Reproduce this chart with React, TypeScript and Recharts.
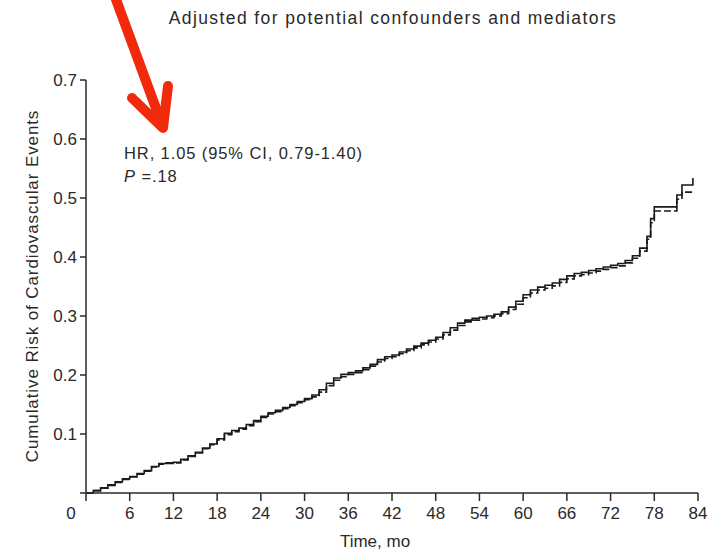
import React from 'react';
import { LineChart, Line, XAxis, YAxis } from 'recharts';

const months = [
  0, 1, 2, 3, 4, 5, 6, 7, 8, 9, 10, 11, 12, 13, 14, 15, 16, 17, 18, 19, 20,
  21, 22, 23, 24, 25, 26, 27, 28, 29, 30, 31, 32, 33, 34, 35, 36, 37, 38, 39, 40,
  41, 42, 43, 44, 45, 46, 47, 48, 49, 50, 51, 52, 53, 54, 55, 56, 57, 58, 59, 60,
  61, 62, 63, 64, 65, 66, 67, 68, 69, 70, 71, 72, 73, 74, 75, 76, 77, 77.5, 78,
  79, 80, 81.1, 81.8, 83.3,
];

const solidRisk = [
  0, 0.004, 0.009, 0.014, 0.019, 0.024, 0.028, 0.033, 0.038, 0.045, 0.05, 0.051, 0.052, 0.057, 0.063, 0.069, 0.076, 0.083, 0.092, 0.101, 0.106,
  0.11, 0.116, 0.123, 0.13, 0.136, 0.14, 0.145, 0.15, 0.155, 0.16, 0.166, 0.175, 0.186, 0.195, 0.201, 0.204, 0.207, 0.212, 0.218, 0.226,
  0.231, 0.234, 0.239, 0.244, 0.249, 0.254, 0.259, 0.264, 0.272, 0.28, 0.288, 0.293, 0.296, 0.298, 0.3, 0.303, 0.307, 0.315, 0.325, 0.336,
  0.344, 0.349, 0.352, 0.356, 0.362, 0.368, 0.372, 0.374, 0.377, 0.38, 0.383, 0.386, 0.389, 0.394, 0.402, 0.415, 0.435, 0.465, 0.485,
  0.485, 0.485, 0.505, 0.522, 0.534,
];

const dashedRisk = [
  0, 0.004, 0.008, 0.013, 0.018, 0.023, 0.027, 0.032, 0.037, 0.044, 0.049, 0.05, 0.051, 0.056, 0.062, 0.068, 0.075, 0.082, 0.09, 0.099, 0.104,
  0.108, 0.114, 0.121, 0.128, 0.134, 0.138, 0.143, 0.148, 0.153, 0.158, 0.163, 0.171, 0.182, 0.191, 0.197, 0.201, 0.204, 0.209, 0.215, 0.222,
  0.228, 0.231, 0.236, 0.241, 0.246, 0.251, 0.256, 0.261, 0.268, 0.276, 0.284, 0.29, 0.293, 0.295, 0.297, 0.3, 0.304, 0.311, 0.32, 0.331,
  0.339, 0.344, 0.347, 0.351, 0.357, 0.363, 0.368, 0.37, 0.373, 0.376, 0.379, 0.382, 0.385, 0.39, 0.398, 0.41, 0.43, 0.458, 0.478,
  0.478, 0.478, 0.498, 0.51, 0.51,
];

const xTicks = [0, 6, 12, 18, 24, 30, 36, 42, 48, 54, 60, 66, 72, 78, 84];
const yTicks = [0, 0.1, 0.2, 0.3, 0.4, 0.5, 0.6, 0.7];

const FONT = '"Liberation Sans", Arial, Helvetica, sans-serif';
const INK = '#2a2a2a';

const data = months.map((m, i) => ({ month: m, solid: solidRisk[i], dashed: dashedRisk[i] }));

// the origin "0" sits left of the corner, like the print version
const XTick = ({ x, y, payload }: any) => (
  <text
    x={payload.value === 0 ? x - 15 : x}
    y={y}
    dy="0.8em"
    textAnchor="middle"
    fill={INK}
    fontSize={17}
    fontFamily={FONT}
  >
    {payload.value}
  </text>
);

export default function App() {
  return (
    <div style={{ position: 'absolute', left: 0, top: 0, width: 714, height: 550, background: '#fff' }}>
      <LineChart
        width={714}
        height={550}
        data={data}
        margin={{ top: 80, right: 16, bottom: 0, left: 0 }}
      >
        <XAxis
          dataKey="month"
          type="number"
          domain={[0, 84]}
          ticks={xTicks}
          interval={0}
          height={57}
          tickSize={8}
          tickMargin={4}
          stroke={INK}
          strokeWidth={1.5}
          tick={<XTick />}
        />
        <YAxis
          type="number"
          domain={[0, 0.7]}
          ticks={yTicks}
          interval={0}
          width={86}
          tickSize={6}
          tickMargin={3}
          stroke={INK}
          strokeWidth={1.5}
          tick={{ fill: INK, fontSize: 17, fontFamily: FONT }}
          tickFormatter={(v: number) => (v === 0 ? '' : v.toFixed(1))}
        />
        <Line
          type="stepAfter"
          dataKey="dashed"
          stroke="#1a1a1a"
          strokeWidth={1.6}
          strokeDasharray="7 3"
          dot={false}
          isAnimationActive={false}
        />
        <Line
          type="stepAfter"
          dataKey="solid"
          stroke="#1a1a1a"
          strokeWidth={1.6}
          dot={false}
          isAnimationActive={false}
        />
      </LineChart>

      <svg
        width={714}
        height={550}
        style={{ position: 'absolute', left: 0, top: 0, pointerEvents: 'none' }}
        fontFamily={FONT}
      >
        <text x={393} y={24} textAnchor="middle" fontSize={17.5} letterSpacing={1.4} fill={INK}>
          Adjusted for potential confounders and mediators
        </text>
        <text x={124} y={159} fontSize={16.5} letterSpacing={0.9} fill={INK}>
          HR, 1.05 (95% CI, 0.79-1.40)
        </text>
        <text x={124} y={182} fontSize={16.5} letterSpacing={0.9} fill={INK}>
          <tspan fontStyle="italic">P</tspan> =.18
        </text>
        <text
          transform="translate(38, 286) rotate(-90)"
          textAnchor="middle"
          fontSize={17}
          letterSpacing={0.9}
          fill={INK}
        >
          Cumulative Risk of Cardiovascular Events
        </text>
        <text x={375} y={547} textAnchor="middle" fontSize={17} fill={INK}>
          Time, mo
        </text>
        <g stroke="#f22a0c" strokeWidth={10} strokeLinecap="round" strokeLinejoin="round" fill="none">
          <line x1={114} y1={-6} x2={161} y2={122} />
          <polyline points="132,98 163,128 168,86" />
        </g>
      </svg>
    </div>
  );
}
